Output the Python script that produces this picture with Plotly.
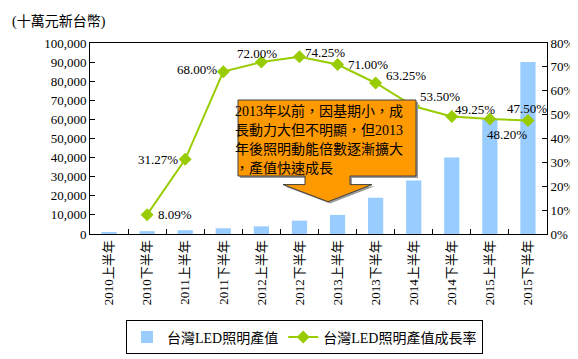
import plotly.graph_objects as go

categories = ["2010上半年", "2010下半年", "2011上半年", "2011下半年", "2012上半年", "2012下半年",
              "2013上半年", "2013下半年", "2014上半年", "2014下半年", "2015上半年", "2015下半年"]
output_values = [1000, 1500, 2000, 3000, 4000, 7000, 10000, 19000, 28000, 40000, 60000, 90000]
growth_rates = [None, 0.0809, 0.3127, 0.68, 0.72, 0.7425, 0.71, 0.6325, 0.535, 0.4925, 0.482, 0.475]
growth_labels = ["", "8.09%", "31.27%", "68.00%", "72.00%", "74.25%", "71.00%", "63.25%",
                 "53.50%", "49.25%", "48.20%", "47.50%"]
# label placement relative to each point: (xanchor, xshift, yshift)
label_offsets = [None, ("left", 9, 0), ("right", -5, 0), ("right", -4, 2), ("center", -4, 9),
                 ("left", 4, 4), ("left", 8, 0), ("left", 8, 7), ("left", 4, 10),
                 ("left", 1, 7), ("left", -5, -16), ("center", -1, 12)]

bar_name = "台灣LED照明產值"
line_name = "台灣LED照明產值成長率"
unit_title = "(十萬元新台幣)"
callout_lines = ["2013年以前，因基期小，成", "長動力大但不明顯，但2013",
                 "年後照明動能倍數逐漸擴大", "，產值快速成長"]

FONT = "Liberation Serif, Noto Sans CJK TC"
W, H = 578, 359
L, R, T, B = 82, 39, 35, 123
PW, PH = W - L - R, H - T - B


def px(x):
    return (x - L) / PW


def py(y):
    return (H - B - y) / PH


fig = go.Figure()
fig.add_trace(go.Bar(x=categories, y=output_values, name=bar_name,
                     marker=dict(color="#99CCFF", line=dict(width=0)), width=0.4))
fig.add_trace(go.Scatter(x=categories, y=growth_rates, name=line_name, yaxis="y2",
                         mode="lines+markers",
                         line=dict(color="#99CC00", width=2),
                         marker=dict(symbol="diamond", size=10, color="#99CC00"),
                         cliponaxis=False))

for cat, val, lab, off in zip(categories, growth_rates, growth_labels, label_offsets):
    if val is None:
        continue
    xa, xs, ys = off
    fig.add_annotation(x=cat, y=val, xref="x", yref="y2", text=lab, showarrow=False,
                       xanchor=xa, yanchor="middle", xshift=xs, yshift=ys,
                       font=dict(family=FONT, size=13, color="black"))

# callout shape (shadow + body)
pts = [(230, 95), (408, 95), (408, 175), (342, 175), (342, 184), (364, 184), (320, 202),
       (275, 184), (297, 184), (297, 175), (230, 175)]


def path(off):
    return "M " + " L ".join(f"{px(x + off)},{py(y + off)}" for x, y in pts) + " Z"


fig.add_shape(type="path", xref="paper", yref="paper", path=path(2),
              fillcolor="#9a9a9a", line=dict(width=0))
fig.add_shape(type="path", xref="paper", yref="paper", path=path(0),
              fillcolor="#FF9900", line=dict(color="#404040", width=1))

for i, ln in enumerate(callout_lines):
    fig.add_annotation(xref="paper", yref="paper", x=px(225), y=py(107 + 20 * i),
                       xanchor="left", yanchor="middle", text=ln, showarrow=False,
                       font=dict(family=FONT, size=14, color="black"))

fig.add_annotation(xref="paper", yref="paper", x=px(2), y=py(13), xanchor="left",
                   yanchor="middle", text=unit_title, showarrow=False,
                   font=dict(family=FONT, size=14, color="black"))

fig.update_layout(
    width=W, height=H, margin=dict(l=L, r=R, t=T, b=B),
    paper_bgcolor="white", plot_bgcolor="white",
    font=dict(family=FONT, size=13, color="black"),
    xaxis=dict(type="category", range=[-0.5, 11.5], showline=True, linecolor="black",
               linewidth=1, mirror=True, ticks="inside", tickson="boundaries", ticklen=5,
               tickcolor="black", tickangle=-90, showgrid=False,
               tickfont=dict(family=FONT, size=13)),
    yaxis=dict(range=[0, 100000], dtick=10000, tickformat=",", showline=True,
               linecolor="black", linewidth=1, ticks="inside", ticklen=5, tickcolor="black",
               showgrid=False, zeroline=False, tickfont=dict(family=FONT, size=13)),
    yaxis2=dict(range=[0, 0.8], dtick=0.1, tickformat=".0%", overlaying="y", side="right",
                showline=True, linecolor="black", linewidth=1, ticks="inside", ticklen=5,
                tickcolor="black", showgrid=False, zeroline=False,
                tickfont=dict(family=FONT, size=13)),
    legend=dict(orientation="h", x=px(118), y=py(327), xanchor="left", yanchor="top",
                bordercolor="black", borderwidth=1, bgcolor="white",
                font=dict(family=FONT, size=14), itemwidth=30, tracegroupgap=0),
    showlegend=True,
)

fig.write_html("out.html")
